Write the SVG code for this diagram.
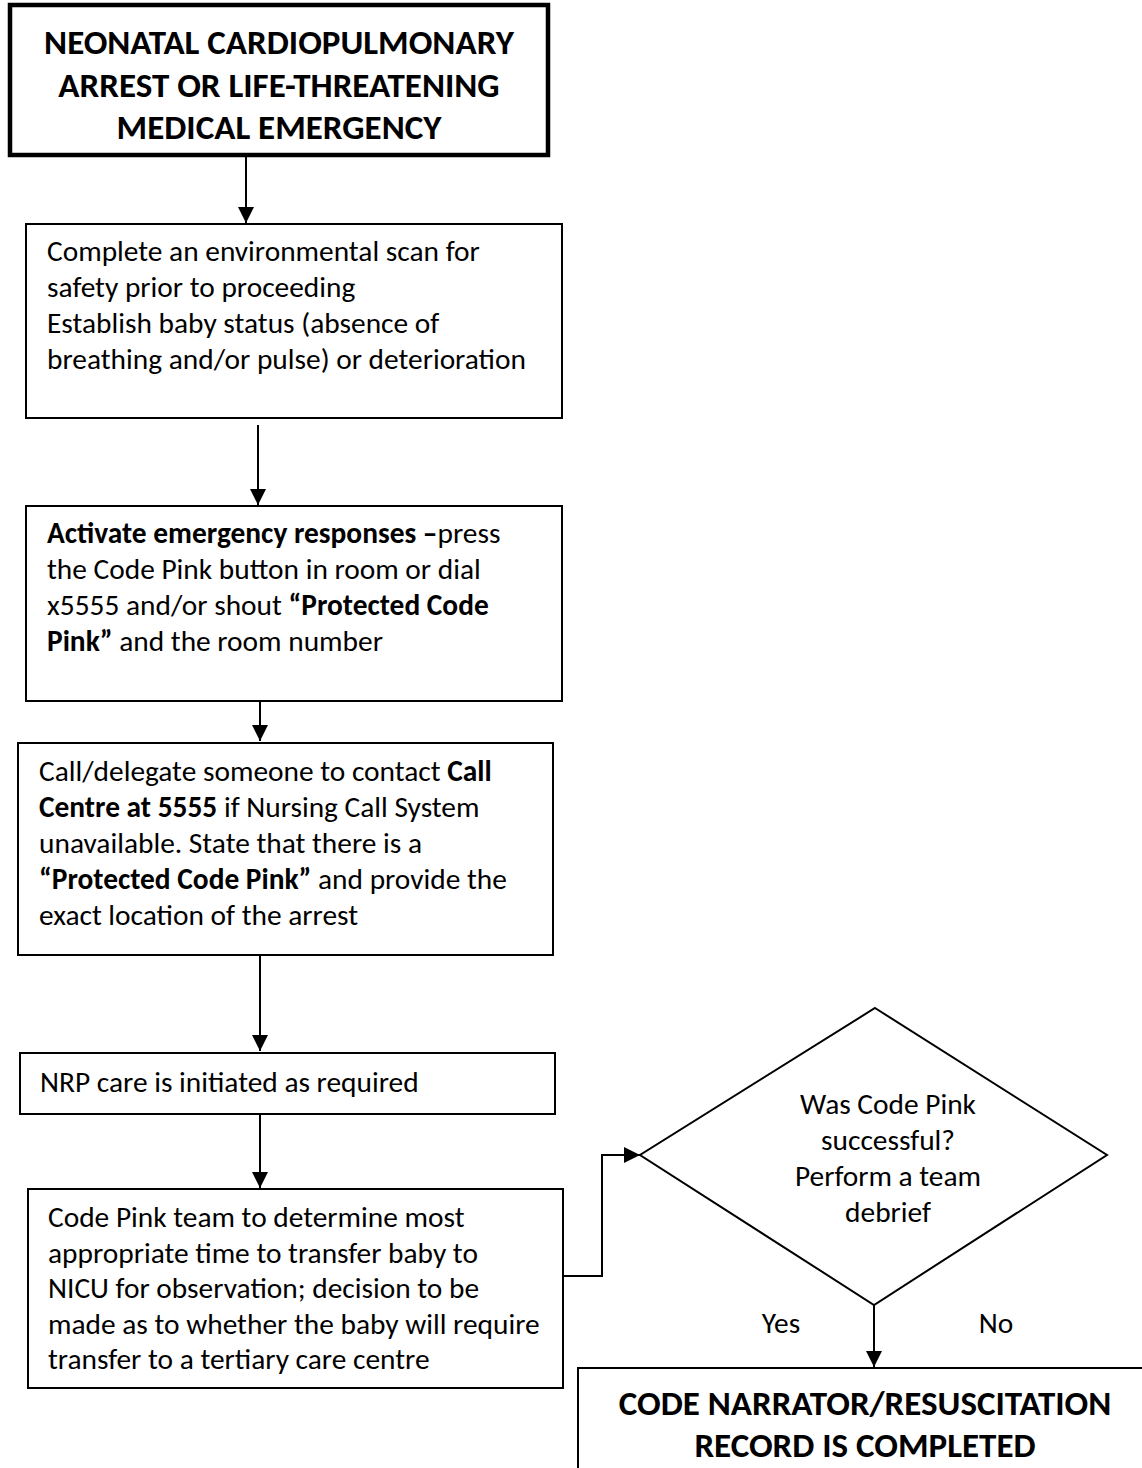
<svg xmlns="http://www.w3.org/2000/svg" width="1142" height="1468" viewBox="0 0 1142 1468">
<style>
.box{fill:#fff;stroke:#000;stroke-width:2}
.thick{fill:#fff;stroke:#000;stroke-width:4.5}
.t{font-family:Carlito,Lato,"Liberation Sans",sans-serif;font-size:29.4px;fill:#000}
.h{font-family:Carlito,Lato,"Liberation Sans",sans-serif;font-size:35px;font-weight:bold;fill:#000;text-anchor:middle}
.b{font-weight:bold}
.c{text-anchor:middle}
.ln{fill:none;stroke:#000;stroke-width:2}
</style>
<defs>
<marker id="ah" markerUnits="userSpaceOnUse" markerWidth="16" markerHeight="16" viewBox="0 0 16 16" refX="16" refY="8" orient="auto">
<path d="M0,0 L16,8 L0,16 Z" fill="#000"/>
</marker>
</defs>
<rect width="1142" height="1468" fill="#fff"/>
<g id="connectors">
<line class="ln" x1="246" y1="156" x2="246" y2="223" marker-end="url(#ah)"/>
<line class="ln" x1="258" y1="425" x2="258" y2="505" marker-end="url(#ah)"/>
<line class="ln" x1="260" y1="688" x2="260" y2="741" marker-end="url(#ah)"/>
<line class="ln" x1="260" y1="948" x2="260" y2="1051" marker-end="url(#ah)"/>
<line class="ln" x1="260" y1="1114" x2="260" y2="1188" marker-end="url(#ah)"/>
<polyline class="ln" points="563,1276 602,1276 602,1155 640,1155" marker-end="url(#ah)"/>
<line class="ln" x1="874" y1="1305" x2="874" y2="1367" marker-end="url(#ah)"/>
</g>
<g id="n1">
<rect class="thick" x="10" y="5" width="538" height="150"/>
<text class="h" x="279" y="54">NEONATAL CARDIOPULMONARY</text>
<text class="h" x="279" y="97">ARREST OR LIFE-THREATENING</text>
<text class="h" x="279" y="139">MEDICAL EMERGENCY</text>
</g>
<g id="n2">
<rect class="box" x="26" y="224" width="536" height="194"/>
<text class="t" x="47" y="261">Complete an environmental scan for</text>
<text class="t" x="47" y="297">safety prior to proceeding</text>
<text class="t" x="47" y="333">Establish baby status (absence of</text>
<text class="t" x="47" y="369">breathing and/or pulse) or deterioration</text>
</g>
<g id="n3">
<rect class="box" x="26" y="506" width="536" height="195"/>
<text class="t" x="47" y="543"><tspan class="b">Activate emergency responses –</tspan>press</text>
<text class="t" x="47" y="579">the Code Pink button in room or dial</text>
<text class="t" x="47" y="615">x5555 and/or shout <tspan class="b">“Protected Code</tspan></text>
<text class="t" x="47" y="651"><tspan class="b">Pink”</tspan> and the room number</text>
</g>
<g id="n4">
<rect class="box" x="18" y="743" width="535" height="212"/>
<text class="t" x="39" y="781">Call/delegate someone to contact <tspan class="b">Call</tspan></text>
<text class="t" x="39" y="817"><tspan class="b">Centre at 5555</tspan> if Nursing Call System</text>
<text class="t" x="39" y="853">unavailable. State that there is a</text>
<text class="t" x="39" y="889"><tspan class="b">“Protected Code Pink”</tspan> and provide the</text>
<text class="t" x="39" y="925">exact location of the arrest</text>
</g>
<g id="n5">
<rect class="box" x="20" y="1053" width="535" height="61"/>
<text class="t" x="40" y="1092">NRP care is initiated as required</text>
</g>
<g id="n6">
<rect class="box" x="28" y="1189" width="535" height="199"/>
<text class="t" x="48" y="1227">Code Pink team to determine most</text>
<text class="t" x="48" y="1263">appropriate time to transfer baby to</text>
<text class="t" x="48" y="1298">NICU for observation; decision to be</text>
<text class="t" x="48" y="1334">made as to whether the baby will require</text>
<text class="t" x="48" y="1369">transfer to a tertiary care centre</text>
</g>
<g id="n7">
<polygon class="box" points="875,1008 1107,1155 874,1305 640,1155"/>
<text class="t c" x="888" y="1114">Was Code Pink</text>
<text class="t c" x="888" y="1150">successful?</text>
<text class="t c" x="888" y="1186">Perform a team</text>
<text class="t c" x="888" y="1222">debrief</text>
</g>
<g id="labels">
<text class="t c" x="781" y="1333">Yes</text>
<text class="t c" x="996" y="1333">No</text>
</g>
<g id="n8">
<rect class="box" x="578" y="1368" width="580" height="120"/>
<text class="h" x="865" y="1415">CODE NARRATOR/RESUSCITATION</text>
<text class="h" x="865" y="1457">RECORD IS COMPLETED</text>
</g>
</svg>
